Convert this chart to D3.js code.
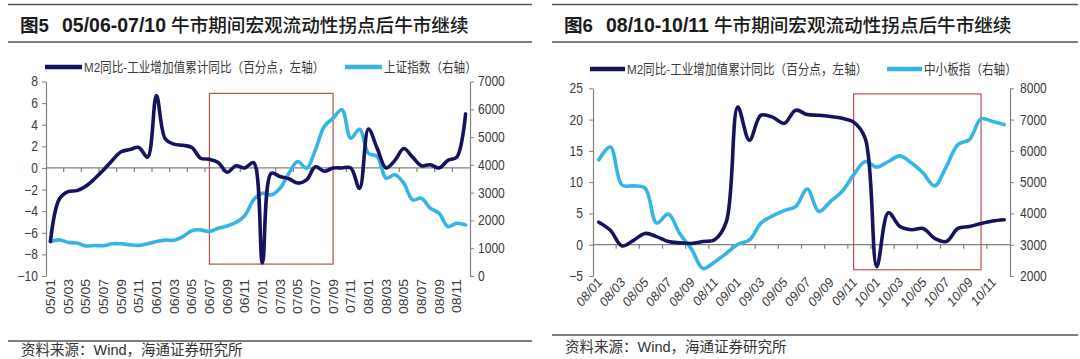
<!DOCTYPE html>
<html>
<head>
<meta charset="utf-8">
<script src="https://cdn.jsdelivr.net/npm/d3@7"></script>
<style>
  html, body { margin: 0; padding: 0; background: #fff; }
  svg { display: block; }
</style>
</head>
<body>
<svg id="chart" width="1080" height="359"></svg>
<script>
// ---------------- DATA ----------------
const leftCats = [
  "05/01","05/02","05/03","05/04","05/05","05/06","05/07","05/08","05/09","05/10","05/11","05/12",
  "06/01","06/02","06/03","06/04","06/05","06/06","06/07","06/08","06/09","06/10","06/11","06/12",
  "07/01","07/02","07/03","07/04","07/05","07/06","07/07","07/08","07/09","07/10","07/11","07/12",
  "08/01","08/02","08/03","08/04","08/05","08/06","08/07","08/08","08/09","08/10","08/11","08/12"
];
const leftM2 = [
  -6.8, -2.9, -2.2, -2.1, -1.7, -1.0, -0.2, 0.7, 1.5, 1.7, 1.9, 1.0,
   6.7,  2.7,  2.2,  2.1,  1.9,  0.9,  0.8, 0.5, -0.4, 0.2, 0.0, 0.5,
  -8.8, -0.5, -0.8, -1.0, -1.4, -1.1,  0.1, -0.3, 0.0, 0.0, 0.0, -1.9,
   3.6,  1.8,  0.0,  0.7,  1.8,  1.0,  0.2,  0.3, 0.0, 0.7, 1.0, 5.0
];
const leftSH = [
  1240, 1300, 1210, 1190, 1080, 1100, 1090, 1160, 1160, 1120, 1100, 1160,
  1240, 1290, 1290, 1420, 1630, 1660, 1600, 1720, 1800, 1930, 2170, 2740,
  2980, 2920, 3160, 3700, 4120, 3880, 4540, 5380, 5680, 5980, 4960, 5280,
  4420, 4300, 3520, 3640, 3340, 2740, 2800, 2440, 2260, 1780, 1900, 1840
];
const leftYTicks = [-10, -8, -6, -4, -2, 0, 2, 4, 6, 8];
const leftRTicks = [0, 1000, 2000, 3000, 4000, 5000, 6000, 7000];
const leftBox = { from: "06/07", to: "07/09", top: 6.9, bottom: -8.9 };
const leftTitleNo = "图5";
const leftTitleRange = "05/06-07/10";
const leftTitleText = "牛市期间宏观流动性拐点后牛市继续";
const leftLegend = ["M2同比-工业增加值累计同比（百分点，左轴）", "上证指数（右轴）"];

const rightCats = [
  "08/01","08/02","08/03","08/04","08/05","08/06","08/07","08/08","08/09","08/10","08/11","08/12",
  "09/01","09/02","09/03","09/04","09/05","09/06","09/07","09/08","09/09","09/10","09/11","09/12",
  "10/01","10/02","10/03","10/04","10/05","10/06","10/07","10/08","10/09","10/10","10/11","10/12"
];
const rightM2 = [
   3.6,  2.3, -0.2,  0.7,  1.8,  1.3,  0.5,  0.3,  0.2,  0.5,  0.8,  3.6,
  22.0, 16.7, 20.7, 20.4, 19.4, 21.5, 20.8, 20.7, 20.5, 20.2, 19.6, 17.0,
  -3.5,  5.1,  2.9,  2.4,  2.6,  1.0,  0.5,  2.6,  2.9,  3.4,  3.8,  4.0
];
const rightSME = [
  5715, 6120, 4910, 4880, 4810, 3690, 3980, 3350, 2860, 2240, 2450, 2720,
  3010, 3150, 3690, 3920, 4090, 4220, 4780, 4060, 4380, 4700, 5230, 5660,
  5480, 5660, 5840, 5610, 5290, 4880, 5500, 6200, 6360, 7020, 6940, 6840
];
const rightYTicks = [-5, 0, 5, 10, 15, 20, 25];
const rightRTicks = [2000, 3000, 4000, 5000, 6000, 7000, 8000];
const rightBox = { from: "09/11", to: "10/10", top: 24.1, bottom: -4.0 };
const rightTitleNo = "图6";
const rightTitleRange = "08/10-10/11";
const rightTitleText = "牛市期间宏观流动性拐点后牛市继续";
const rightLegend = ["M2同比-工业增加值累计同比（百分点，左轴）", "中小板指（右轴）"];

const sourceText = "资料来源：Wind，海通证券研究所";

// ---------------- STYLE ----------------
const NAVY = "#15135e";
const BLUE = "#36b4e6";
const AXIS = "#808080";
const TXT = "#3a3a3a";
const BOX = "#b5524f";
const SQ = 0.86;           // horizontal squeeze of the embedded chart image
const FONT = "'Liberation Sans', 'Noto Sans CJK SC', sans-serif";

const svg = d3.select("#chart");

function squeezeAxisText(g) {
  g.selectAll(".tick text").each(function () {
    const t = d3.select(this);
    const x = +t.attr("x") || 0;
    t.attr("x", x / SQ).attr("transform", `scale(${SQ},1)`);
  });
}

function sText(g, x, y, str, size, anchor, extra) {
  return g.append("text")
    .attr("transform", `translate(${x},${y}) scale(${SQ},1)` + (extra || ""))
    .attr("font-family", FONT)
    .attr("font-size", size)
    .attr("fill", TXT)
    .attr("text-anchor", anchor || "start")
    .text(str);
}

function header(g, x0, x1, tx, no, range, text) {
  g.append("line").attr("x1", x0).attr("x2", x1).attr("y1", 4.5).attr("y2", 4.5)
    .attr("stroke", "#555").attr("stroke-width", 1.3);
  g.append("line").attr("x1", x0).attr("x2", x1).attr("y1", 42).attr("y2", 42)
    .attr("stroke", "#555").attr("stroke-width", 1.3);
  const t = g.append("text").attr("x", tx).attr("y", 32)
    .attr("font-family", FONT).attr("font-size", 18.6).attr("fill", "#1a1a1a");
  t.append("tspan").attr("font-weight", "bold").text(no);
  t.append("tspan").attr("dx", 13).attr("font-weight", "bold").attr("font-size", 19.5).text(range);
  t.append("tspan").attr("dx", 5).attr("font-weight", 500).text(text);
}

function footer(g, x0, x1, lineY, tx, ty) {
  g.append("line").attr("x1", x0).attr("x2", x1).attr("y1", lineY).attr("y2", lineY)
    .attr("stroke", "#555").attr("stroke-width", 1.3);
  g.append("text").attr("x", tx).attr("y", ty)
    .attr("font-family", FONT).attr("font-size", 14.5).attr("fill", "#333")
    .text(sourceText);
}

function panel(cfg) {
  const g = svg.append("g");
  const x = d3.scaleBand().domain(cfg.cats).range([cfg.x0, cfg.x1]).paddingInner(0).paddingOuter(0);
  const bw = x.bandwidth();
  const cx = c => x(c) + bw / 2;
  const yL = d3.scaleLinear().domain(cfg.lDomain).range([cfg.yBottom, cfg.yTop]);
  const yR = d3.scaleLinear().domain(cfg.rDomain).range([cfg.yBottom, cfg.yTop]);

  // left axis
  const ga = g.append("g").attr("transform", `translate(${cfg.x0},0)`)
    .call(d3.axisLeft(yL).tickValues(cfg.lTicks).tickSize(4).tickSizeOuter(0).tickPadding(cfg.lPad).tickFormat(d3.format("d")));
  ga.select(".domain").attr("stroke", AXIS).attr("stroke-width", 1.2);
  ga.selectAll(".tick line").attr("stroke", AXIS);
  ga.selectAll(".tick text").attr("font-family", FONT).attr("font-size", 14).attr("fill", TXT);
  squeezeAxisText(ga);

  // right axis
  const gr = g.append("g").attr("transform", `translate(${cfg.x1},0)`)
    .call(d3.axisRight(yR).tickValues(cfg.rTicks).tickSize(4).tickSizeOuter(0).tickPadding(cfg.rPad).tickFormat(d3.format("d")));
  gr.select(".domain").attr("stroke", AXIS).attr("stroke-width", 1.2);
  gr.selectAll(".tick line").attr("stroke", AXIS);
  gr.selectAll(".tick text").attr("font-family", FONT).attr("font-size", 14).attr("fill", TXT);
  squeezeAxisText(gr);

  // zero (category) axis line
  const y0 = yL(0);
  g.append("line").attr("x1", cfg.x0).attr("x2", cfg.x1).attr("y1", y0).attr("y2", y0)
    .attr("stroke", AXIS).attr("stroke-width", 1.2);
  g.selectAll(".xtick").data(cfg.cats.filter((c, i) => i % 2 === 0 && i > 0))
    .enter().append("line").attr("class", "xtick")
    .attr("x1", c => x(c)).attr("x2", c => x(c))
    .attr("y1", y0).attr("y2", y0 + 4)
    .attr("stroke", AXIS).attr("stroke-width", 1.2);

  // x labels
  cfg.cats.forEach((c, i) => {
    if (i % 2 !== 0) return;
    if (cfg.rot === -90) {
      sText(g, cx(c) + 4.5, cfg.labelY, c, 14, "end", " rotate(-90)");
    } else {
      sText(g, cx(c) + 4, cfg.labelY, c, 14, "end", " rotate(-45)");
    }
  });

  // red box
  g.append("rect")
    .attr("x", cx(cfg.box.from)).attr("y", yL(cfg.box.top))
    .attr("width", cx(cfg.box.to) - cx(cfg.box.from))
    .attr("height", yL(cfg.box.bottom) - yL(cfg.box.top))
    .attr("fill", "none").attr("stroke", BOX).attr("stroke-width", 1.2);

  // lines
  const curve = d3.curveCatmullRom.alpha(0.5);
  const lineR = d3.line().x((d, i) => cx(cfg.cats[i])).y(d => yR(d)).curve(curve);
  const lineL = d3.line().x((d, i) => cx(cfg.cats[i])).y(d => yL(d)).curve(curve);
  g.append("path").datum(cfg.rVals).attr("d", lineR)
    .attr("fill", "none").attr("stroke", BLUE).attr("stroke-width", 3.6)
    .attr("stroke-linejoin", "round").attr("stroke-linecap", "round");
  g.append("path").datum(cfg.lVals).attr("d", lineL)
    .attr("fill", "none").attr("stroke", NAVY).attr("stroke-width", 3.6)
    .attr("stroke-linejoin", "round").attr("stroke-linecap", "round");

  // legend
  const ly = cfg.legendY;
  g.append("line").attr("x1", cfg.leg1[0]).attr("x2", cfg.leg1[1]).attr("y1", ly).attr("y2", ly)
    .attr("stroke", NAVY).attr("stroke-width", 4.5);
  sText(g, cfg.leg1[1] + 2, ly + 4.5, cfg.legend[0], 13.5, "start");
  g.append("line").attr("x1", cfg.leg2[0]).attr("x2", cfg.leg2[1]).attr("y1", ly).attr("y2", ly)
    .attr("stroke", BLUE).attr("stroke-width", 4.5);
  sText(g, cfg.leg2[1] + 2, ly + 4.5, cfg.legend[1], 13.5, "start");
}

// ---------------- LEFT PANEL ----------------
header(svg, 8, 532, 20, leftTitleNo, leftTitleRange, leftTitleText);
panel({
  cats: leftCats, x0: 46, x1: 470, yTop: 81.5, yBottom: 276,
  lDomain: [-10, 8], rDomain: [0, 7000],
  lTicks: leftYTicks, rTicks: leftRTicks, lPad: 4, rPad: 4,
  lVals: leftM2, rVals: leftSH, box: leftBox,
  rot: -90, labelY: 279,
  legendY: 67, leg1: [45, 82], leg2: [345, 382], legend: leftLegend
});
footer(svg, 8, 532, 341, 21, 355);

// ---------------- RIGHT PANEL ----------------
header(svg, 552, 1078, 564, rightTitleNo, rightTitleRange, rightTitleText);
panel({
  cats: rightCats, x0: 593, x1: 1010, yTop: 88.3, yBottom: 276,
  lDomain: [-5, 25], rDomain: [2000, 8000],
  lTicks: rightYTicks, rTicks: rightRTicks, lPad: 6, rPad: 6,
  lVals: rightM2, rVals: rightSME, box: rightBox,
  rot: -45, labelY: 283,
  legendY: 69, leg1: [590, 625], leg2: [887, 922], legend: rightLegend
});
footer(svg, 552, 1078, 335, 565, 352);
</script>
</body>
</html>
